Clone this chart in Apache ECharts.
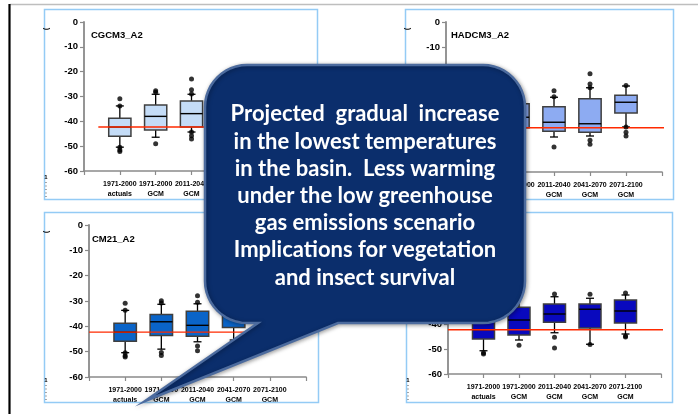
<!DOCTYPE html>
<html>
<head>
<meta charset="utf-8">
<script src="https://cdn.jsdelivr.net/npm/echarts@6/dist/echarts.min.js"></script>
<style>
  html, body { margin: 0; padding: 0; background: #ffffff; }
  #chart { width: 698px; height: 414px; }
</style>
</head>
<body>
<div id="chart"></div>
<script>
// Period categories shared by all four model panels
const categories = ['1971-2000\nactuals', '1971-2000\nGCM', '2011-2040\nGCM', '2041-2070\nGCM', '2071-2100\nGCM'];
const yTicks = [-60, -50, -40, -30, -20, -10, 0];

// Observed 1971-2000 median of the minimum temperatures (°C), drawn as the reference line
const observedMedian = -42.3;

// Box statistics per period: [low whisker, Q1, median, Q3, high whisker]
const cgcm3Boxes = [
  [-50.4, -46.0, -42.3, -38.8, -33.8],
  [-46.4, -43.5, -38.0, -33.4, -29.1],
  [-44.3, -42.3, -36.9, -31.8, -29.1],
  [-42.0, -39.0, -34.0, -29.5, -25.0],
  [-40.0, -36.0, -31.5, -27.5, -23.0]
];
// Outliers: [period number, value]
const cgcm3Outliers = [
  [1, -30.9], [1, -33.8], [1, -50.4], [1, -51.5], [1, -52.1],
  [2, -27.7], [2, -28.3], [2, -49.0],
  [3, -23.0], [3, -27.3], [3, -29.0], [3, -44.3], [3, -45.8], [3, -47.1],
  [4, -22.0], [4, -45.0],
  [5, -21.0], [5, -43.0]
];

const hadcm3Boxes = [
  [-50.4, -46.0, -42.3, -38.8, -33.8],
  [-47.0, -42.3, -38.1, -32.7, -28.0],
  [-46.0, -43.7, -40.1, -33.9, -30.1],
  [-45.6, -44.1, -40.7, -30.7, -26.3],
  [-42.0, -36.4, -32.1, -29.3, -25.6]
];
const hadcm3Outliers = [
  [1, -30.9], [1, -51.5], [1, -52.1],
  [2, -26.0], [2, -49.0],
  [3, -27.5], [3, -29.9], [3, -50.0],
  [4, -20.7], [4, -24.8], [4, -26.3], [4, -47.3], [4, -48.9],
  [5, -25.4], [5, -42.0], [5, -44.1], [5, -45.6]
];

const cm21Boxes = [
  [-50.4, -45.9, -42.3, -38.8, -33.7],
  [-49.0, -43.6, -38.2, -35.3, -31.3],
  [-46.1, -43.9, -39.6, -34.0, -31.1],
  [-45.4, -40.5, -36.0, -31.5, -27.0],
  [-43.0, -38.0, -33.0, -29.0, -25.0]
];
const cm21Outliers = [
  [1, -30.9], [1, -33.7], [1, -50.4], [1, -51.6], [1, -52.1],
  [2, -29.9], [2, -30.8], [2, -50.3], [2, -51.5],
  [3, -27.9], [3, -30.5], [3, -47.8], [3, -49.6]
];

const fourthBoxes = [
  [-50.7, -46.0, -42.3, -38.8, -33.8],
  [-46.4, -44.4, -38.4, -33.3, -29.0],
  [-43.5, -39.3, -36.0, -32.0, -29.1],
  [-48.1, -41.6, -34.1, -32.0, -29.7],
  [-44.0, -39.6, -34.8, -30.4, -28.4]
];
const fourthOutliers = [
  [1, -51.5], [1, -52.0],
  [2, -48.5],
  [3, -28.0], [3, -45.3], [3, -49.6],
  [4, -28.1], [4, -48.2],
  [5, -27.6], [5, -44.8], [5, -45.2]
];

const panels = [
  { title: 'CGCM3_A2', boxes: cgcm3Boxes, outliers: cgcm3Outliers, color: '#C4DCF7',
    grid: { left: 84, top: 22, width: 215, height: 149 }, titlePos: [91, 35], frame: [44, 9, 273, 190], lineFrom: 0.4 },
  { title: 'HADCM3_A2', boxes: hadcm3Boxes, outliers: hadcm3Outliers, color: '#8DABF2',
    grid: { left: 446, top: 22, width: 216, height: 150 }, titlePos: [451, 35], frame: [405, 9, 268, 190], lineFrom: 0 },
  { title: 'CM21_A2', boxes: cm21Boxes, outliers: cm21Outliers, color: '#0A64C8',
    grid: { left: 89, top: 225, width: 217, height: 152 }, titlePos: [92, 239], frame: [44, 212, 274, 190], lineFrom: 0 },
  { title: '', boxes: fourthBoxes, outliers: fourthOutliers, color: '#0909BE',
    grid: { left: 448, top: 224, width: 213, height: 150 }, titlePos: [452, 238], frame: [406, 212, 266, 190], lineFrom: 0 }
];

const FONT = '"Liberation Sans", Arial, sans-serif';

function makeBoxRenderer(fill) {
  return function (params, api) {
    const x = api.value(0);
    const lo = api.coord([x, api.value(1)]);
    const q1 = api.coord([x, api.value(2)]);
    const md = api.coord([x, api.value(3)]);
    const q3 = api.coord([x, api.value(4)]);
    const hi = api.coord([x, api.value(5)]);
    const half = api.size([1, 0])[0] * 0.31;
    const cap = 4;
    const cx = lo[0];
    const whisker = { stroke: '#000000', lineWidth: 1.3 };
    return {
      type: 'group',
      children: [
        { type: 'line', shape: { x1: cx, y1: hi[1], x2: cx, y2: q3[1] }, style: whisker },
        { type: 'line', shape: { x1: cx, y1: q1[1], x2: cx, y2: lo[1] }, style: whisker },
        { type: 'line', shape: { x1: cx - cap, y1: hi[1], x2: cx + cap, y2: hi[1] }, style: whisker },
        { type: 'line', shape: { x1: cx - cap, y1: lo[1], x2: cx + cap, y2: lo[1] }, style: whisker },
        { type: 'rect', shape: { x: cx - half, y: q3[1], width: half * 2, height: q1[1] - q3[1] },
          style: { fill: fill, stroke: '#3F3F3F', lineWidth: 1.5 } },
        { type: 'line', shape: { x1: cx - half, y1: md[1], x2: cx + half, y2: md[1] },
          style: { stroke: '#000000', lineWidth: 1.4 } }
      ]
    };
  };
}

// Outline of the rounded callout with its tail, as polygon points
function calloutOutline(x0, y0, x1, y1, r, tailLeft, tailRight, tip) {
  const pts = [];
  function arc(cx, cy, a0, a1) {
    const steps = 12;
    for (let s = 0; s <= steps; s++) {
      const a = a0 + (a1 - a0) * s / steps;
      pts.push([cx + r * Math.cos(a), cy + r * Math.sin(a)]);
    }
  }
  arc(x0 + r, y0 + r, Math.PI, Math.PI * 1.5);        // top-left
  arc(x1 - r, y0 + r, Math.PI * 1.5, Math.PI * 2);    // top-right
  arc(x1 - r, y1 - r, 0, Math.PI * 0.5);              // bottom-right
  pts.push([tailRight, y1], tip, [tailLeft, y1]);
  arc(x0 + r, y1 - r, Math.PI * 0.5, Math.PI);        // bottom-left
  return pts;
}

const grids = [], xAxes = [], yAxes = [], series = [], graphics = [];

// Page chrome: top rule and left rule
graphics.push({ type: 'line', z: 0, shape: { x1: 10, y1: 4.5, x2: 698, y2: 4.5 }, style: { stroke: '#BEBEBE', lineWidth: 1.5 } });
graphics.push({ type: 'line', z: 0, shape: { x1: 9.5, y1: 4, x2: 9.5, y2: 414 }, style: { stroke: '#000000', lineWidth: 2.2 } });

panels.forEach((p, i) => {
  grids.push(Object.assign({ containLabel: false }, p.grid));
  xAxes.push({
    type: 'value', gridIndex: i, min: 0, max: 6, interval: 1,
    axisLine: { show: true, onZero: false, lineStyle: { color: '#8A8A8A', width: 1.6 } },
    axisTick: { show: true, length: 4, lineStyle: { color: '#8A8A8A', width: 1.2 } },
    splitLine: { show: false },
    axisLabel: {
      formatter: v => categories[v - 1] || '',
      fontSize: 7, fontWeight: 'bold', color: '#000000', fontFamily: FONT,
      lineHeight: 10, margin: 8
    }
  });
  yAxes.push({
    type: 'value', gridIndex: i, min: yTicks[0], max: yTicks[yTicks.length - 1], interval: 10,
    axisLine: { show: true, onZero: false, lineStyle: { color: '#8A8A8A', width: 1.8 } },
    axisTick: { show: true, length: 4, lineStyle: { color: '#8A8A8A', width: 1.2 } },
    splitLine: { show: false },
    axisLabel: { fontSize: 9.5, fontWeight: 'bold', color: '#000000', fontFamily: FONT, margin: 6 }
  });
  series.push({
    type: 'custom', xAxisIndex: i, yAxisIndex: i, z: 3,
    renderItem: makeBoxRenderer(p.color),
    encode: { x: 0, y: [1, 2, 3, 4, 5] },
    data: p.boxes.map((b, k) => [k + 1].concat(b))
  });
  series.push({
    type: 'line', xAxisIndex: i, yAxisIndex: i, z: 4, clip: false,
    symbol: 'none', silent: true,
    lineStyle: { color: '#FF2A00', width: 1.4 },
    data: [[p.lineFrom, observedMedian], [6.3, observedMedian]]
  });
  series.push({
    type: 'scatter', xAxisIndex: i, yAxisIndex: i, z: 5,
    symbol: 'circle', symbolSize: 5,
    itemStyle: { color: '#000000' },
    data: p.outliers
  });
  graphics.push({
    type: 'rect', z: 1,
    shape: { x: p.frame[0] + 0.5, y: p.frame[1] + 0.5, width: p.frame[2], height: p.frame[3] },
    style: { fill: 'none', stroke: '#94CBF5', lineWidth: 1.5 }
  });
  // Clipped remnants of the rotated axis title along the frame's left edge
  graphics.push({
    type: 'text', z: 6, x: p.frame[0] + 3, y: p.frame[1] + 20, rotation: -Math.PI / 2,
    style: { text: ')', font: 'bold 7px ' + FONT, fill: '#000000', align: 'center', verticalAlign: 'middle' }
  });
  graphics.push({
    type: 'text', z: 6, x: p.frame[0] + 2, y: p.frame[1] + 168,
    style: { text: '1', font: 'bold 6px ' + FONT, fill: '#000000', align: 'center', verticalAlign: 'middle' }
  });
  graphics.push({
    type: 'line', z: 6,
    shape: { x1: p.frame[0] + 2, y1: p.frame[1] + 173, x2: p.frame[0] + 2, y2: p.frame[1] + 188 },
    style: { stroke: '#555555', lineWidth: 1, lineDash: [1, 2.5] }
  });
  if (p.title) {
    graphics.push({
      type: 'text', z: 6, x: p.titlePos[0], y: p.titlePos[1],
      style: { text: p.title, font: 'bold 9.5px ' + FONT, fill: '#000000', verticalAlign: 'middle' }
    });
  }
});

// Callout bubble with tail pointing down to the lower-left panel
graphics.push({
  type: 'polygon', z: 100,
  shape: { points: calloutOutline(205, 65, 525, 323, 42, 258, 338, [145, 401]) },
  style: {
    fill: '#0B2E6C', stroke: '#4C6B9E', lineWidth: 2.5,
    shadowBlur: 4, shadowColor: 'rgba(0,0,0,0.35)', shadowOffsetX: 1, shadowOffsetY: 1
  }
});
graphics.push({
  type: 'text', z: 101, x: 365, y: 196,
  style: {
    text: 'Projected  gradual  increase\nin the lowest temperatures\nin the basin.  Less warming\nunder the low greenhouse\ngas emissions scenario\nImplications for vegetation\nand insect survival',
    font: 'bold 22px Lato, "Open Sans", sans-serif',
    fill: '#FFFFFF', align: 'center', verticalAlign: 'middle', lineHeight: 27.2
  }
});

const chart = echarts.init(document.getElementById('chart'), null, { renderer: 'canvas' });
chart.setOption({
  backgroundColor: '#FFFFFF',
  animation: false,
  grid: grids,
  xAxis: xAxes,
  yAxis: yAxes,
  series: series,
  graphic: { elements: graphics }
});
</script>
</body>
</html>
